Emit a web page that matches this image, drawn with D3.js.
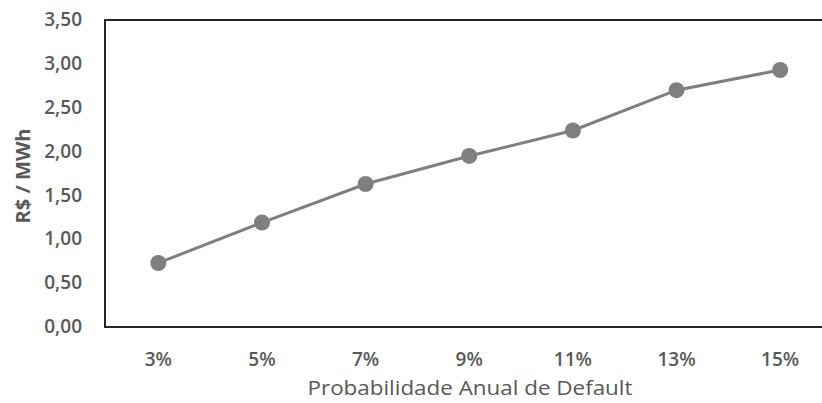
<!DOCTYPE html>
<html>
<head>
<meta charset="utf-8">
<script src="https://cdn.jsdelivr.net/npm/d3@7/dist/d3.min.js"></script>
<style>
  html, body { margin: 0; padding: 0; background: #fff; overflow: hidden; }
  svg { display: block; }
</style>
</head>
<body>
<svg id="chart" width="822" height="403"></svg>
<script>
// Custo (R$/MWh) por probabilidade anual de default
const categories = ["3%", "5%", "7%", "9%", "11%", "13%", "15%"];
const values = [0.73, 1.19, 1.63, 1.95, 2.24, 2.70, 2.93];
const yTicks = [0, 0.5, 1.0, 1.5, 2.0, 2.5, 3.0, 3.5];
const xTitle = "Probabilidade Anual de Default";
const yTitle = "R$ / MWh";

const svg = d3.select("#chart");
const plot = { left: 105, right: 832, top: 20, bottom: 327 };
const textColor = "#595959";
const font = "'Open Sans', 'DejaVu Sans', sans-serif";

const x = d3.scaleBand()
  .domain(categories)
  .range([plot.left + 1.5, plot.right])
  .padding(0);

const y = d3.scaleLinear()
  .domain([0, 3.5])
  .range([plot.bottom, plot.top]);

const fmt = v => d3.format(".2f")(v).replace(".", ",");

// Y axis tick labels
const yAxis = d3.axisLeft(y)
  .tickValues(yTicks)
  .tickFormat(fmt)
  .tickSize(0)
  .tickPadding(23);

const gy = svg.append("g")
  .attr("transform", `translate(${plot.left},0)`)
  .call(yAxis);
gy.select(".domain").remove();
gy.selectAll("text")
  .attr("fill", textColor)
  .attr("dy", "0.3em")
  .style("font-family", font)
  .style("font-size", "19px")
  .style("font-weight", "600");

// X axis tick labels
const xAxis = d3.axisBottom(x)
  .tickSize(0)
  .tickPadding(26);

const gx = svg.append("g")
  .attr("transform", `translate(0,${plot.bottom})`)
  .call(xAxis);
gx.select(".domain").remove();
gx.selectAll("text")
  .attr("fill", textColor)
  .style("font-family", font)
  .style("font-size", "19px")
  .style("font-weight", "600");

// Plot frame: top, left and bottom edges
svg.append("path")
  .attr("d", `M${plot.right},${plot.top}H${plot.left}V${plot.bottom}H${plot.right}`)
  .attr("fill", "none")
  .attr("stroke", "#262626")
  .attr("stroke-width", 2);

// Series line
const cx = d => x(d) + x.bandwidth() / 2;
const line = d3.line()
  .x((d, i) => cx(categories[i]))
  .y(d => y(d));

svg.append("path")
  .datum(values)
  .attr("d", line)
  .attr("fill", "none")
  .attr("stroke", "#7f7f7f")
  .attr("stroke-width", 3);

svg.append("g")
  .selectAll("circle")
  .data(values)
  .join("circle")
  .attr("cx", (d, i) => cx(categories[i]))
  .attr("cy", d => y(d))
  .attr("r", 8)
  .attr("fill", "#7f7f7f");

// Axis titles
svg.append("text")
  .attr("x", 470)
  .attr("y", 395)
  .attr("text-anchor", "middle")
  .attr("fill", textColor)
  .attr("textLength", 325)
  .attr("lengthAdjust", "spacingAndGlyphs")
  .style("font-family", font)
  .style("font-size", "20px")
  .text(xTitle);

svg.append("text")
  .attr("transform", "translate(30,176) rotate(-90)")
  .attr("text-anchor", "middle")
  .attr("fill", textColor)
  .attr("textLength", 95)
  .attr("lengthAdjust", "spacingAndGlyphs")
  .style("font-family", font)
  .style("font-size", "20px")
  .style("font-weight", "700")
  .text(yTitle);
</script>
</body>
</html>
